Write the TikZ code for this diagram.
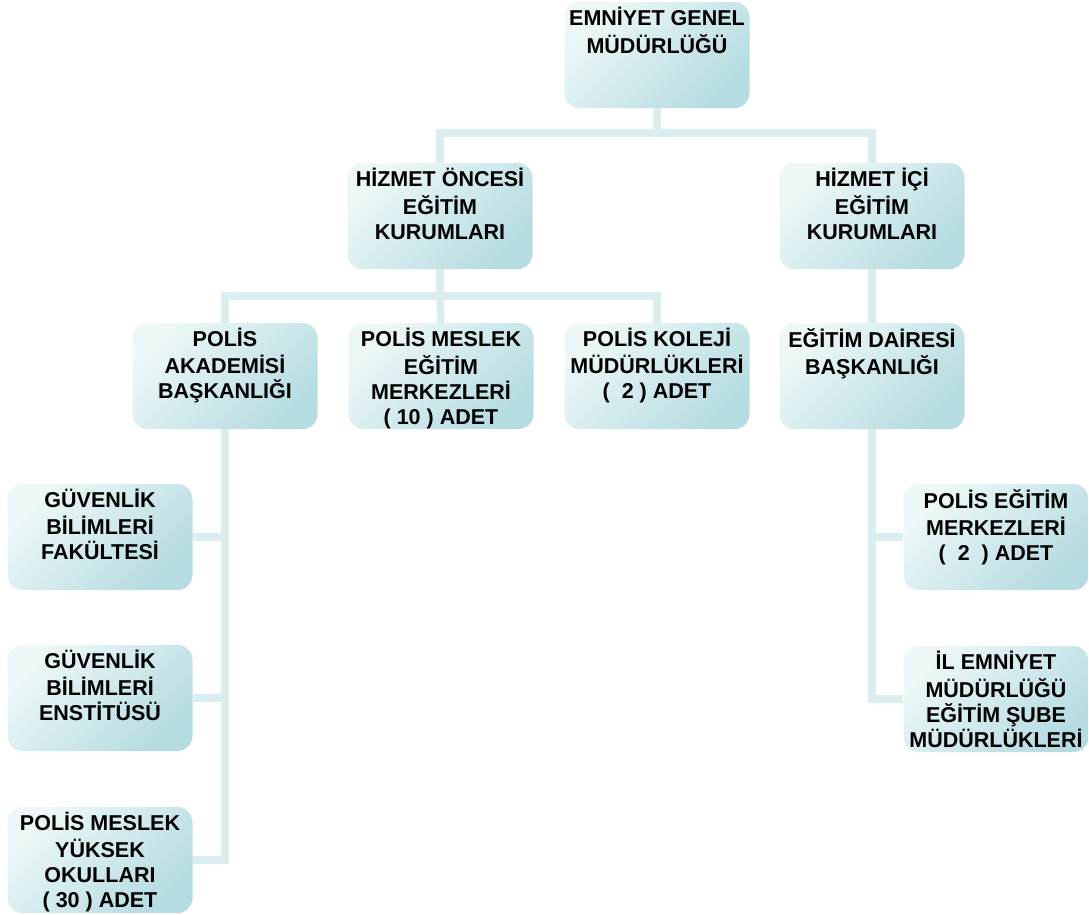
\documentclass[tikz,border=0pt]{standalone}
\usepackage{fontspec}
\setmainfont{Liberation Sans}
\definecolor{kutuA}{RGB}{238,248,248}
\definecolor{kutuB}{RGB}{181,220,225}
\definecolor{hat}{RGB}{218,238,239}
\newcommand{\kt}[1]{\parbox[c][95pt][t]{184pt}{\centering\strut #1}}
\begin{document}
\begin{tikzpicture}[x=1pt, y=-1pt, line join=miter,
  kutu/.style={rectangle, rounded corners=15pt, minimum width=185pt, minimum height=106pt,
    inner sep=0pt, left color=kutuA, right color=kutuB, shading angle=45,
    font=\fontsize{21.5}{25}\selectfont\bfseries},
  hat/.style={draw=hat, line width=7.5pt}]
\useasboundingbox (0,0) rectangle (1089,914);
% kutular
\node[kutu] (gm)   at (657,55)  {\kt{EMNİYET GENEL\\MÜDÜRLÜĞÜ}};
\node[kutu] (hoe)  at (440,216) {\kt{HİZMET ÖNCESİ\\EĞİTİM\\KURUMLARI}};
\node[kutu] (hie)  at (872,216) {\kt{HİZMET İÇİ\\EĞİTİM\\KURUMLARI}};
\node[kutu] (pab)  at (225,376) {\kt{POLİS\\AKADEMİSİ\\BAŞKANLIĞI}};
\node[kutu] (pmem) at (441,376) {\kt{POLİS MESLEK\\EĞİTİM\\MERKEZLERİ\\( 10 ) ADET}};
\node[kutu] (pkm)  at (657,376) {\kt{POLİS KOLEJİ\\MÜDÜRLÜKLERİ\\(~~2 ) ADET}};
\node[kutu] (edb)  at (872,376) {\kt{EĞİTİM DAİRESİ\\BAŞKANLIĞI}};
\node[kutu] (gbf)  at (100,537) {\kt{GÜVENLİK\\BİLİMLERİ\\FAKÜLTESİ}};
\node[kutu] (gbe)  at (100,698) {\kt{GÜVENLİK\\BİLİMLERİ\\ENSTİTÜSÜ}};
\node[kutu] (pmyo) at (100,860) {\kt{POLİS MESLEK\\YÜKSEK\\OKULLARI\\( 30 ) ADET}};
\node[kutu] (pem)  at (996,537) {\kt{POLİS EĞİTİM\\MERKEZLERİ\\(~~2~~) ADET}};
\node[kutu] (iem)  at (996,699) {\kt{İL EMNİYET\\MÜDÜRLÜĞÜ\\EĞİTİM ŞUBE\\MÜDÜRLÜKLERİ}};
% baglantilar
\draw[hat] (gm.south) -- ++(0,25) coordinate (j1);
\draw[hat] (j1) -| (hoe.north);
\draw[hat] (j1) -| (hie.north);
\draw[hat] (hoe.south) -- ++(0,27) coordinate (j2);
\draw[hat] (j2) -| (pab.north);
\draw[hat] (j2) -| (pkm.north);
\draw[hat] (j2) -- (pmem.north);
\draw[hat] (hie.south) -- (edb.north);
\draw[hat] (pab.south) |- (gbf.east);
\draw[hat] (pab.south) |- (gbe.east);
\draw[hat] (pab.south) |- (pmyo.east);
\draw[hat] (edb.south) |- (pem.west);
\draw[hat] (edb.south) |- (iem.west);
\end{tikzpicture}
\end{document}
